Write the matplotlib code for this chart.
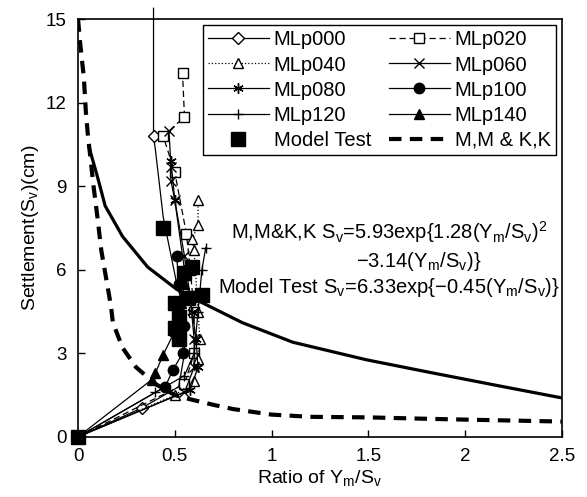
import matplotlib
matplotlib.use("Agg")
import matplotlib.pyplot as plt

plt.rcParams['font.family'] = ['Liberation Sans', 'DejaVu Sans']
plt.rcParams['mathtext.default'] = 'regular'

# data (ratio Ym/Sv, settlement Sv in cm)
mlp000_x = [0, 0.33, 0.52, 0.55, 0.55, 0.51, 0.44, 0.40, 0.39, 0.39]
mlp000_y = [0, 1.04, 1.8, 3.0, 4.5, 5.5, 7.9, 10.3, 10.8, 15.4]
mlp020_x = [0, 0.55, 0.60, 0.60, 0.58, 0.56, 0.50, 0.44, 0.55, 0.54]
mlp020_y = [0, 1.9, 3.0, 4.5, 6.0, 7.3, 9.5, 10.8, 11.5, 13.06]
mlp040_x = [0, 0.50, 0.60, 0.62, 0.63, 0.62, 0.60, 0.59, 0.62, 0.62]
mlp040_y = [0, 1.5, 2.0, 2.8, 3.5, 4.5, 6.7, 7.1, 7.6, 8.5]
mlp060_x = [0, 0.55, 0.60, 0.60, 0.58, 0.55, 0.50, 0.48, 0.48, 0.47]
mlp060_y = [0, 1.6, 2.5, 3.5, 5.0, 6.5, 8.5, 9.2, 9.7, 11.0]
mlp080_x = [0, 0.58, 0.62, 0.61, 0.59, 0.55, 0.50, 0.48]
mlp080_y = [0, 1.7, 2.5, 3.5, 4.5, 6.0, 8.5, 9.9]
mlp100_x = [0, 0.45, 0.49, 0.54, 0.55, 0.52, 0.51]
mlp100_y = [0, 1.8, 2.4, 3.0, 4.0, 5.5, 6.5]
mlp120_x = [0, 0.40, 0.55, 0.60, 0.62, 0.64, 0.66]
mlp120_y = [0, 1.6, 2.2, 3.0, 4.5, 6.0, 6.8]
mlp140_x = [0, 0.38, 0.40, 0.44, 0.50, 0.53, 0.55]
mlp140_y = [0, 2.05, 2.3, 2.95, 3.8, 4.8, 5.5]

test_x = [0, 0.44, 0.59, 0.55, 0.64, 0.50, 0.52, 0.50, 0.52, 0.57]
test_y = [0, 7.5, 6.1, 5.9, 5.1, 4.8, 4.3, 3.9, 3.5, 5.0]

mmkk_x = [0, 0.01, 0.03, 0.04, 0.05, 0.08, 0.10, 0.12, 0.14, 0.17, 0.18, 0.23,
          0.30, 0.40, 0.50, 0.58, 0.70, 0.80, 1.0, 1.2, 1.5, 1.8, 2.0, 2.5]
mmkk_y = [15, 14.2, 12.9, 11.7, 10.9, 9.0, 7.9, 6.7, 5.9, 4.7, 4.1, 3.2,
          2.5, 1.9, 1.5, 1.35, 1.15, 1.0, 0.8, 0.72, 0.7, 0.65, 0.62, 0.55]

fit_x = [0.057, 0.1, 0.14, 0.23, 0.36, 0.51, 0.63, 0.85, 1.11, 1.49, 1.83, 2.2, 2.5]
fit_y = [10.4, 9.35, 8.3, 7.2, 6.1, 5.3, 4.86, 4.1, 3.4, 2.77, 2.3, 1.8, 1.4]

fig = plt.figure(figsize=(5.87, 4.97), dpi=100)
ax = fig.add_axes([0.133, 0.121, 0.824, 0.840])

k = dict(color='black', lw=0.9, ms=7.5, mec='black')
h000, = ax.plot(mlp000_x, mlp000_y, '-', marker='D', mfc='white', ms=6,
                markevery=[1, 8], clip_on=False, color='black', lw=0.9)
h020, = ax.plot(mlp020_x, mlp020_y, '--', marker='s', mfc='white', dashes=(5, 3), **k)
h040, = ax.plot(mlp040_x, mlp040_y, ':', marker='^', mfc='white', **k)
h060, = ax.plot(mlp060_x, mlp060_y, '-', marker='x', **k)
h080, = ax.plot(mlp080_x, mlp080_y, '-', marker=(6, 2, 0), **k)
h100, = ax.plot(mlp100_x, mlp100_y, '-', marker='o', mfc='black', **k)
h120, = ax.plot(mlp120_x, mlp120_y, '-', marker='+', **k)
h140, = ax.plot(mlp140_x, mlp140_y, '-', marker='^', mfc='black', **k)
htest, = ax.plot(test_x, test_y, 's', color='black', ms=10, clip_on=False)
hmm, = ax.plot(mmkk_x, mmkk_y, '--', color='black', lw=3, dashes=(3, 2))
ax.plot(fit_x, fit_y, '-', color='black', lw=2.3)

handles = [h000, h040, h080, h120, htest, h020, h060, h100, h140, hmm]
labels = ['MLp000', 'MLp040', 'MLp080', 'MLp120', 'Model Test',
          'MLp020', 'MLp060', 'MLp100', 'MLp140', 'M,M & K,K']
leg = ax.legend(handles, labels, ncol=2, loc='upper right', fontsize=14.5,
                frameon=True, fancybox=False, edgecolor='black', framealpha=1,
                handlelength=3.0, handletextpad=0.25, columnspacing=0.9,
                labelspacing=0.3, borderpad=0.25, borderaxespad=0.3)
leg.get_frame().set_linewidth(1.0)

ax.text(1.61, 7.37, 'M,M&K,K S$_v$=5.93exp{1.28(Y$_m$/S$_v$)$^2$',
        fontsize=14.5, ha='center', va='center')
ax.text(1.76, 6.3, '$-$3.14(Y$_m$/S$_v$)}', fontsize=14.5, ha='center', va='center')
ax.text(1.605, 5.36, 'Model Test S$_v$=6.33exp{$-$0.45(Y$_m$/S$_v$)}',
        fontsize=14.5, ha='center', va='center')

ax.set_xlim(0, 2.5)
ax.set_ylim(0, 15)
ax.set_xticks([0, 0.5, 1, 1.5, 2, 2.5])
ax.set_xticklabels(['0', '0.5', '1', '1.5', '2', '2.5'])
ax.set_yticks([0, 3, 6, 9, 12, 15])
ax.tick_params(direction='in', labelsize=13.5, length=5, width=1, pad=8)
for s in ax.spines.values():
    s.set_linewidth(1.2)
ax.set_xlabel('Ratio of Y$_m$/S$_v$', fontsize=14, labelpad=2)
ax.set_ylabel('Settlement(S$_v$)(cm)', fontsize=14, labelpad=4)

fig.savefig('out.png', dpi=100)
